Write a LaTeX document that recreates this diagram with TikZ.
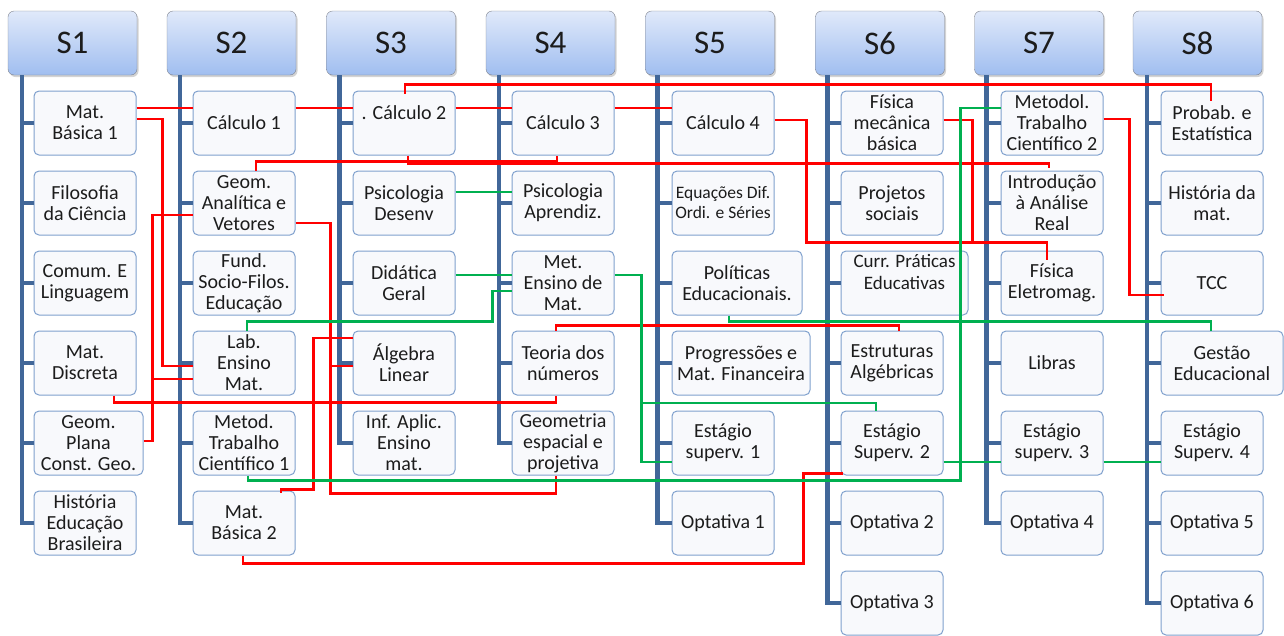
\documentclass[tikz,border=0pt]{standalone}
\usepackage{fontspec}
\setmainfont{Carlito}
\usepackage{tikz}
\usetikzlibrary{shadows}

\definecolor{hdtop}{RGB}{224,233,250}
\definecolor{hdbot}{RGB}{160,190,240}
\definecolor{hdline}{RGB}{128,132,142}
\definecolor{boxline}{RGB}{127,160,205}
\definecolor{boxfill}{RGB}{248,249,252}
\definecolor{trunkblue}{RGB}{65,103,153}
\definecolor{prered}{RGB}{255,0,0}
\definecolor{cogreen}{RGB}{0,176,80}
\definecolor{ink}{RGB}{28,28,28}

\begin{document}
\begin{tikzpicture}[x=1pt,y=-1pt,
    semester/.style={draw=hdline,top color=hdtop,bottom color=hdbot,rounded corners=6pt,
      minimum width=129pt,minimum height=64pt,font=\fontsize{33}{36}\selectfont,text=ink,
      drop shadow={shadow xshift=1.5pt,shadow yshift=-2pt,opacity=0.35}},
    course/.style={draw=boxline,fill=boxfill,line width=1pt,rounded corners=5pt,
      minimum width=102pt,minimum height=64pt,inner sep=1pt,align=center,
      font=\fontsize{20}{21}\selectfont,text=ink},
    trunk/.style={draw=trunkblue,line width=4.5pt},
    prereq/.style={draw=prered,line width=2.4pt},
    coreq/.style={draw=cogreen,line width=2.4pt}]
    \useasboundingbox (0,0) rectangle (1284,635);

    \node[semester] (s1) at (72.5,43) {S1};
    \node[semester] (s2) at (231.5,43) {S2};
    \node[semester] (s3) at (391,43) {S3};
    \node[semester] (s4) at (550.5,43) {S4};
    \node[semester] (s5) at (710,43) {S5};
    \node[semester] (s6) at (880,43) {S6};
    \node[semester] (s7) at (1039,43) {S7};
    \node[semester] (s8) at (1197.5,43) {S8};

    \node[course] (mb1) at (85,123) {Mat.\\Básica 1};
    \node[course] (filo) at (85,203) {Filosofia\\da Ciência};
    \node[course] (comum) at (85,283) {Comum. E\\Linguagem};
    \node[course] (discr) at (85,363) {Mat.\\Discreta};
    \node[course,minimum width=109pt] (gplana) at (88.5,443) {Geom.\\Plana\\Const. Geo.};
    \node[course] (histedu) at (85,523) {História\\Educação\\Brasileira};

    \node[course] (calc1) at (244,123) {Cálculo 1};
    \node[course] (geoan) at (244,203) {Geom.\\Analítica e\\Vetores};
    \node[course] (fund) at (244,283) {Fund.\\Socio-Filos.\\Educação};
    \node[course] (lab) at (244,363) {Lab.\\Ensino\\Mat.};
    \node[course] (metod1) at (244,443) {Metod.\\Trabalho\\Científico 1};
    \node[course] (mb2) at (244,523) {Mat.\\Básica 2};

    \node[course] (calc2) at (404,123) {. Cálculo 2\\\phantom{X}};
    \node[course] (psides) at (404,203) {Psicologia\\Desenv};
    \node[course] (didat) at (404,283) {Didática\\Geral};
    \node[course] (alg) at (404,363) {Álgebra\\Linear};
    \node[course] (infap) at (404,443) {Inf. Aplic.\\Ensino\\mat.};

    \node[course] (calc3) at (563,123) {Cálculo 3};
    \node[course] (psiap) at (563,203) {Psicologia\\Aprendiz.};
    \node[course] (meten) at (563,283) {Met.\\Ensino de\\Mat.};
    \node[course] (teor) at (563,363) {Teoria dos\\números};
    \node[course] (geoesp) at (563,443) {Geometria\\espacial e\\projetiva};

    \node[course] (calc4) at (723,123) {Cálculo 4};
    \node[course,font=\fontsize{17.5}{20}\selectfont] (edo) at (723,203) {Equações Dif.\\Ordi. e Séries};
    \node[course,minimum width=130pt] (polit) at (737,283) {Políticas\\Educacionais.};
    \node[course,minimum width=138pt] (progr) at (741,363) {Progressões e\\Mat. Financeira};
    \node[course] (est1) at (723,443) {Estágio\\superv. 1};
    \node[course] (opt1) at (723,523) {Optativa 1};

    \node[course] (fismec) at (892,123) {Física\\mecânica\\básica};
    \node[course] (proj) at (892,203) {Projetos\\sociais};
    \node[course,minimum width=127pt,font=\fontsize{19}{22}\selectfont] (curr) at (904.5,283) {Curr. Práticas\\Educativas\\\phantom{X}};
    \node[course] (estr) at (892,363) {Estruturas\\Algébricas};
    \node[course] (est2) at (892,443) {Estágio\\Superv. 2};
    \node[course] (opt2) at (892,523) {Optativa 2};
    \node[course] (opt3) at (892,603) {Optativa 3};

    \node[course] (metod2) at (1052,123) {Metodol.\\Trabalho\\Científico 2};
    \node[course] (intro) at (1052,203) {Introdução\\à Análise\\Real};
    \node[course] (fisel) at (1052,283) {Física\\Eletromag.};
    \node[course] (libras) at (1052,363) {Libras};
    \node[course] (est3) at (1052,443) {Estágio\\superv. 3};
    \node[course] (opt4) at (1052,523) {Optativa 4};

    \node[course] (probab) at (1212,123) {Probab. e\\Estatística};
    \node[course] (hist) at (1212,203) {História da\\mat.};
    \node[course] (tcc) at (1212,283) {TCC};
    \node[course,minimum width=122pt] (gestao) at (1222,363) {Gestão\\Educacional};
    \node[course] (est4) at (1212,443) {Estágio\\Superv. 4};
    \node[course] (opt5) at (1212,523) {Optativa 5};
    \node[course] (opt6) at (1212,603) {Optativa 6};

    \foreach \c in {mb1,filo,comum,discr,gplana,histedu} \draw[trunk] ([xshift=14pt]s1.south west) |- (\c.west);
    \foreach \c in {calc1,geoan,fund,lab,metod1,mb2} \draw[trunk] ([xshift=13pt]s2.south west) |- (\c.west);
    \foreach \c in {calc2,psides,didat,alg,infap} \draw[trunk] ([xshift=13pt]s3.south west) |- (\c.west);
    \foreach \c in {calc3,psiap,meten,teor,geoesp} \draw[trunk] ([xshift=13pt]s4.south west) |- (\c.west);
    \foreach \c in {calc4,edo,polit,progr,est1,opt1} \draw[trunk] ([xshift=12pt]s5.south west) |- (\c.west);
    \foreach \c in {fismec,proj,curr,estr,est2,opt2,opt3} \draw[trunk] ([xshift=12pt]s6.south west) |- (\c.west);
    \foreach \c in {metod2,intro,fisel,libras,est3,opt4} \draw[trunk] ([xshift=12pt]s7.south west) |- (\c.west);
    \foreach \c in {probab,hist,tcc,gestao,est4,opt5,opt6} \draw[trunk] ([xshift=14pt]s8.south west) |- (\c.west);

    % red links
    \draw[prereq] ([yshift=15pt]mb1.east) -- ([yshift=15pt]calc1.west);
    \draw[prereq] ([yshift=4pt]mb1.east) -| ([xshift=-30pt,yshift=-3pt]lab.west) -- ([yshift=-3pt]lab.west);
    \draw[prereq] ([yshift=15pt]calc1.east) -- ([yshift=15pt]calc2.west);
    \draw[prereq] ([yshift=15pt]calc2.east) -- ([yshift=15pt]calc3.west);
    \draw[prereq] ([yshift=15pt]calc3.east) -- ([yshift=15pt]calc4.west);
    \draw[prereq] ([xshift=12pt]geoan.north) |- ([xshift=-6pt,yshift=-6pt]calc3.south) -- ([xshift=-6pt]calc3.south);
    \draw[prereq] ([xshift=4pt]calc2.south) |- ([xshift=-3pt,yshift=7pt]intro.north) -- ([xshift=-3pt,yshift=3pt]intro.north);
    \draw[prereq] ([xshift=1pt,yshift=-3pt]calc2.north) |- ([xshift=-1pt,yshift=6pt]probab.north) -- ([xshift=-1pt,yshift=-10pt]probab.north);
    \draw[prereq] ([yshift=3pt]calc4.east) -- ++(32,0) |- ([xshift=-5pt,yshift=8pt]fisel.north) -- ([xshift=-5pt,yshift=-9pt]fisel.north);
    \draw[prereq] ([yshift=3pt]fismec.east) -- ++(29,0) |- ([xshift=-5pt,yshift=8pt]fisel.north);
    \draw[prereq] ([yshift=4pt]metod2.east) -| ([xshift=-31pt,yshift=-12pt]tcc.west) -- ([xshift=3pt,yshift=-12pt]tcc.west);
    \draw[prereq] ([yshift=-20pt]geoan.east) -- ++(35,0) |- ([xshift=-7pt,yshift=-18pt]geoesp.south) -- ([xshift=-7pt]geoesp.south);
    \draw[prereq] ([xshift=-23pt,yshift=-3pt]alg.west) -- ([yshift=-3pt]alg.west);
    \draw[prereq] ([xshift=37pt,yshift=-2pt]mb2.north) -- ++(0,-3) -| ([xshift=-39pt,yshift=25pt]alg.west) -- ([yshift=25pt]alg.west);
    \draw[prereq] ([yshift=2pt]gplana.east) -- ++(9,0) |- ([yshift=-12pt]geoan.west);
    \draw[prereq] ([xshift=-41pt,yshift=-16pt]lab.west) -- ([yshift=-16pt]lab.west);
    \draw[prereq] ([xshift=29pt]discr.south) |- ([xshift=-7pt,yshift=-7pt]teor.south) -- ([xshift=-7pt]teor.south);
    \draw[prereq] ([xshift=-7pt]teor.north) |- ([xshift=7pt,yshift=5pt]estr.north) -- ([xshift=7pt]estr.north);
    \draw[prereq] ([xshift=-1pt]mb2.south) -- ++(0,8) -| ([xshift=-37pt,yshift=2pt]est2.south west) -- ([xshift=2pt,yshift=2pt]est2.south west);

    % green links
    \draw[coreq] ([yshift=11pt]psides.east) -- ([yshift=11pt]psiap.west);
    \draw[coreq] ([yshift=8pt]didat.east) -- ([yshift=8pt]meten.west);
    \draw[coreq] ([yshift=-8pt]meten.west) -- ++(-19,0) |- ([xshift=3pt,yshift=9pt]lab.north) -- ([xshift=3pt]lab.north);
    \draw[coreq] ([yshift=8pt]meten.east) -| ([xshift=-30pt,yshift=-19pt]est1.west) -- ([yshift=-19pt]est1.west);
    \draw[coreq] ([xshift=-31pt,yshift=40pt]est1.west) -| ([xshift=-16pt]est2.north);
    \draw[coreq] ([xshift=4pt]metod1.south) -- ++(0,5) -| ([xshift=-40pt,yshift=15pt]metod2.west) -- ([yshift=15pt]metod2.west);
    \draw[coreq] ([xshift=-8pt]polit.south) |- ([xshift=-11pt,yshift=9pt]gestao.north) -- ([xshift=-11pt]gestao.north);
    \draw[coreq] ([yshift=-19pt]est2.east) -- ([yshift=-19pt]est3.west);
    \draw[coreq] ([yshift=-19pt]est3.east) -- ([yshift=-19pt]est4.west);
\end{tikzpicture}
\end{document}
